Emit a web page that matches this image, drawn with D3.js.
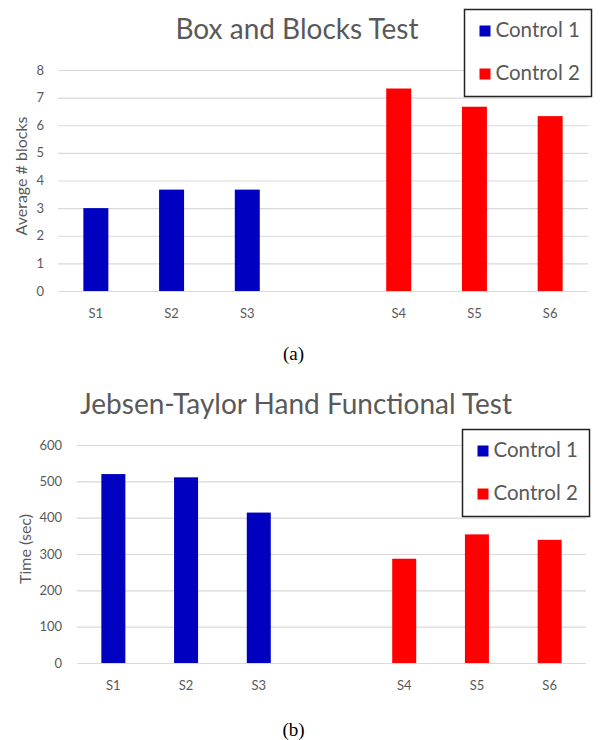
<!DOCTYPE html>
<html>
<head>
<meta charset="utf-8">
<script src="https://cdn.jsdelivr.net/npm/d3@7"></script>
<style>
  body { margin: 0; background: #fff; }
  text { font-family: Lato, "Open Sans", sans-serif; }
</style>
</head>
<body>
<svg id="chart" width="600" height="740"></svg>
<script>
// slots along the x axis, the blank one is the gap between the two groups
const slots = ["S1", "S2", "S3", " ", "S4", "S5", "S6"];
const subjects = ["S1", "S2", "S3", "S4", "S5", "S6"];
const groupOf = ["Control 1", "Control 1", "Control 1", "Control 2", "Control 2", "Control 2"];
const seriesNames = ["Control 1", "Control 2"];
const seriesColors = ["#0000C0", "#FF0000"];

const boxBlocks = [3.0, 3.67, 3.67, 7.33, 6.67, 6.33];
const boxTicks = [0, 1, 2, 3, 4, 5, 6, 7, 8];

const jebsen = [520, 511, 414, 287, 354, 339];
const jebsenTicks = [0, 100, 200, 300, 400, 500, 600];

const svg = d3.select("#chart");
svg.append("rect").attr("width", 600).attr("height", 740).attr("fill", "#fff");
const color = d3.scaleOrdinal().domain(seriesNames).range(seriesColors);

// draws one panel; opt holds the layout for that panel
function makePanel(values, ticks, opt) {
    const g = svg.append("g");
    const x = d3.scaleBand().domain(slots).range([opt.left, opt.right]).paddingInner(0.67).paddingOuter(0.335);
    const y = d3.scaleLinear().domain([0, d3.max(ticks)]).range([opt.bottom, opt.top]);

    // gridlines
    g.append("g").selectAll("line").data(ticks).enter().append("line")
        .attr("x1", opt.left).attr("x2", opt.right).attr("y1", d => y(d) + 0.5).attr("y2", d => y(d) + 0.5)
        .attr("stroke", "#D9D9D9").attr("stroke-width", 1.2);

    // y tick labels
    g.append("g").selectAll("text").data(ticks).enter().append("text")
        .attr("x", opt.tickX).attr("y", d => y(d)).attr("dy", "0.35em").attr("text-anchor", "end")
        .style("font-size", "13px").attr("fill", "#595959").text(d => d);

    // bars
    g.append("g").selectAll("rect").data(values).enter().append("rect")
        .attr("x", (d, i) => x(subjects[i])).attr("y", d => y(d)).attr("width", x.bandwidth())
        .attr("height", d => y(0) - y(d)).attr("fill", (d, i) => color(groupOf[i]));

    // x labels
    g.append("g").selectAll("text").data(subjects).enter().append("text")
        .attr("x", d => x(d) + x.bandwidth() / 2).attr("y", opt.bottom + 27).attr("text-anchor", "middle")
        .style("font-size", "13px").attr("fill", "#595959").text(d => d);

    // title
    g.append("text").attr("x", opt.titleX).attr("y", opt.titleY).attr("text-anchor", "middle")
        .style("font-size", "28px").attr("fill", "#595959").text(opt.title);

    // y axis label
    g.append("text").attr("transform", `translate(${opt.labelX},${opt.labelY}) rotate(-90)`)
        .attr("text-anchor", "middle").attr("dy", "0.35em")
        .style("font-size", "16px").attr("fill", "#595959").text(opt.yLabel);

    // legend box on top of the grid
    const lg = g.append("g").attr("transform", `translate(${opt.legX},${opt.legY})`);
    lg.append("rect").attr("width", 127).attr("height", 87).attr("fill", "#fff")
        .attr("stroke", "#222").attr("stroke-width", 1.5);
    seriesNames.forEach((name, i) => {
        const row = lg.append("g").attr("transform", `translate(15,${16 + i * 43})`);
        row.append("rect").attr("width", 11).attr("height", 11).attr("fill", color(name));
        row.append("text").attr("x", 16).attr("y", 11).style("font-size", "20.5px").attr("fill", "#595959").text(name);
    });

    // caption
    g.append("text").attr("x", opt.capX).attr("y", opt.capY).attr("text-anchor", "middle")
        .style("font-family", "'Liberation Serif', serif").style("font-size", "19px").attr("fill", "#000").text(opt.caption);
}

makePanel(boxBlocks, boxTicks, {
    left: 58, right: 588, top: 70, bottom: 291, tickX: 44, labelX: 21.5, labelY: 176,
    title: "Box and Blocks Test", titleX: 297, titleY: 39,
    yLabel: "Average # blocks", legX: 464.5, legY: 9.5, capX: 293.5, capY: 360, caption: "(a)"
});

makePanel(jebsen, jebsenTicks, {
    left: 77, right: 586, top: 445, bottom: 663, tickX: 62, labelX: 25, labelY: 549,
    title: "Jebsen-Taylor Hand Functional Test", titleX: 296, titleY: 414,
    yLabel: "Time (sec)", legX: 462.5, legY: 429.5, capX: 293.5, capY: 736, caption: "(b)"
});
</script>
</body>
</html>
